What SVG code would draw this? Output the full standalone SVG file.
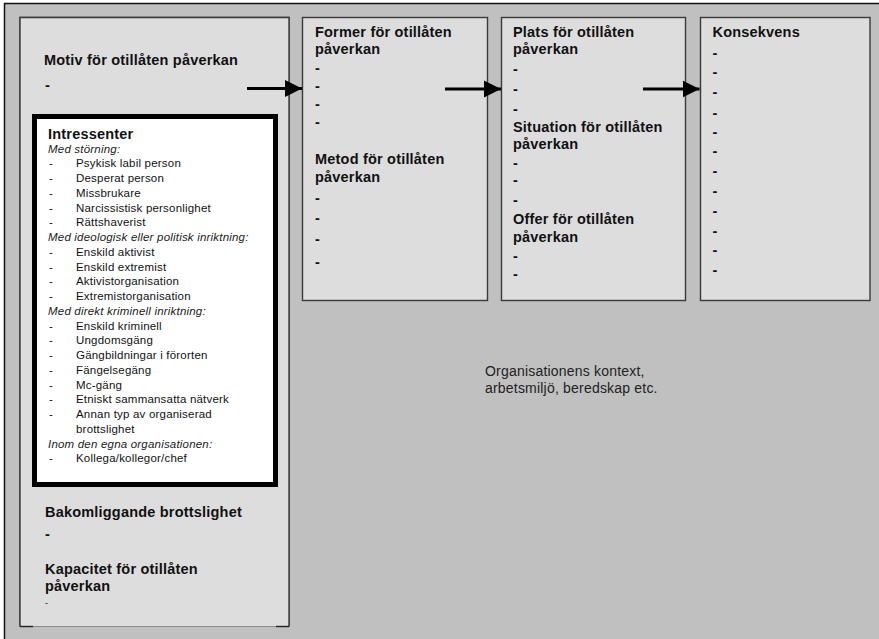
<svg xmlns="http://www.w3.org/2000/svg" width="879" height="639" viewBox="0 0 879 639">
<defs>
<style>
text{font-family:"Liberation Sans",Arial,Helvetica,sans-serif;fill:#111}
.h{font-size:14.5px;font-weight:bold;letter-spacing:0.2px}
.d{font-size:14.5px;font-weight:bold}
.i{font-size:11.5px;font-style:italic;letter-spacing:0.2px;fill:#222}
.r{font-size:11.5px;letter-spacing:0.2px}
.c{font-size:14px;letter-spacing:0.2px;fill:#222}
.box{fill:#dddddd;stroke:#3a3a3a;stroke-width:1.4}
.arrow{stroke:#000;stroke-width:3.2;fill:none}
</style>
<marker id="ah" markerUnits="userSpaceOnUse" markerWidth="18" markerHeight="18" refX="17" refY="9" orient="auto">
<path d="M0,0.5 L17,9 L0,17.5 Z" fill="#000"/>
</marker>
</defs>
<rect x="0" y="0" width="879" height="639" fill="#ffffff"/>
<rect id="frame" x="4.5" y="3.5" width="900" height="700" fill="#c0c0c0" stroke="#111" stroke-width="1.5"/>

<g id="motiv">
<path class="box" d="M20,626.5 V17.5 H289 V626.5"/>
<rect x="20" y="17.5" width="269" height="609" fill="#dddddd"/>
<path d="M20,626.5 V17.5 H289 V626.5" fill="none" stroke="#3a3a3a" stroke-width="1.4"/>
<line x1="20" y1="626.5" x2="289" y2="626.5" stroke="#8a8a8a" stroke-width="1.2"/>
<line x1="20" y1="626.5" x2="33" y2="626.5" stroke="#222" stroke-width="1.4"/>
<line x1="276" y1="626.5" x2="289" y2="626.5" stroke="#222" stroke-width="1.4"/>
<text class="h" x="44" y="65">Motiv för otillåten påverkan</text>
<text class="d" x="45" y="90">-</text>
<text class="h" x="45" y="517">Bakomliggande brottslighet</text>
<text class="d" x="45" y="539">-</text>
<text class="h" x="45" y="574">Kapacitet för otillåten</text>
<text class="h" x="45" y="591">påverkan</text>
<text x="45" y="606" style="font-size:9px">-</text>
</g>

<g id="intressenter">
<rect x="34.5" y="116.5" width="241" height="368" fill="#ffffff" stroke="#000" stroke-width="5"/>
<text class="h" x="48" y="139">Intressenter</text>
<text class="i" x="48" y="152.7">Med störning:</text>
<text class="r" x="49" y="167.4">-</text><text class="r" x="76" y="167.4">Psykisk labil person</text>
<text class="r" x="49" y="182.2">-</text><text class="r" x="76" y="182.2">Desperat person</text>
<text class="r" x="49" y="196.9">-</text><text class="r" x="76" y="196.9">Missbrukare</text>
<text class="r" x="49" y="211.7">-</text><text class="r" x="76" y="211.7">Narcissistisk personlighet</text>
<text class="r" x="49" y="226.4">-</text><text class="r" x="76" y="226.4">Rättshaverist</text>
<text class="i" x="48" y="241.2">Med ideologisk eller politisk inriktning:</text>
<text class="r" x="49" y="255.9">-</text><text class="r" x="76" y="255.9">Enskild aktivist</text>
<text class="r" x="49" y="270.7">-</text><text class="r" x="76" y="270.7">Enskild extremist</text>
<text class="r" x="49" y="285.4">-</text><text class="r" x="76" y="285.4">Aktivistorganisation</text>
<text class="r" x="49" y="300.2">-</text><text class="r" x="76" y="300.2">Extremistorganisation</text>
<text class="i" x="48" y="314.9">Med direkt kriminell inriktning:</text>
<text class="r" x="49" y="329.7">-</text><text class="r" x="76" y="329.7">Enskild kriminell</text>
<text class="r" x="49" y="344.4">-</text><text class="r" x="76" y="344.4">Ungdomsgäng</text>
<text class="r" x="49" y="359.2">-</text><text class="r" x="76" y="359.2">Gängbildningar i förorten</text>
<text class="r" x="49" y="373.9">-</text><text class="r" x="76" y="373.9">Fängelsegäng</text>
<text class="r" x="49" y="388.7">-</text><text class="r" x="76" y="388.7">Mc-gäng</text>
<text class="r" x="49" y="403.4">-</text><text class="r" x="76" y="403.4">Etniskt sammansatta nätverk</text>
<text class="r" x="49" y="418.2">-</text><text class="r" x="76" y="418.2">Annan typ av organiserad</text>
<text class="r" x="76" y="432.9">brottslighet</text>
<text class="i" x="48" y="447.7">Inom den egna organisationen:</text>
<text class="r" x="49" y="462.4">-</text><text class="r" x="76" y="462.4">Kollega/kollegor/chef</text>
</g>

<g id="former">
<rect class="box" x="302.5" y="17.5" width="185" height="283"/>
<text class="h" x="315" y="36.7">Former för otillåten</text>
<text class="h" x="315" y="54.3">påverkan</text>
<text class="d" x="315" y="72.5">-</text>
<text class="d" x="315" y="91">-</text>
<text class="d" x="315" y="109">-</text>
<text class="d" x="315" y="127">-</text>
<text class="h" x="315" y="164.3">Metod för otillåten</text>
<text class="h" x="315" y="181.8">påverkan</text>
<text class="d" x="315" y="202.5">-</text>
<text class="d" x="315" y="222.5">-</text>
<text class="d" x="315" y="243.5">-</text>
<text class="d" x="315" y="267">-</text>
</g>

<g id="plats">
<rect class="box" x="501.5" y="17.5" width="184" height="283"/>
<text class="h" x="513" y="36.7">Plats för otillåten</text>
<text class="h" x="513" y="54.3">påverkan</text>
<text class="d" x="513" y="74">-</text>
<text class="d" x="513" y="94">-</text>
<text class="d" x="513" y="113.5">-</text>
<text class="h" x="513" y="131.7">Situation för otillåten</text>
<text class="h" x="513" y="148.8">påverkan</text>
<text class="d" x="513" y="167.5">-</text>
<text class="d" x="513" y="185.2">-</text>
<text class="d" x="513" y="205">-</text>
<text class="h" x="513" y="224.3">Offer för otillåten</text>
<text class="h" x="513" y="241.5">påverkan</text>
<text class="d" x="513" y="261">-</text>
<text class="d" x="513" y="278.5">-</text>
</g>

<g id="konsekvens">
<rect class="box" x="700.5" y="17.5" width="169.5" height="283"/>
<text class="h" x="712.5" y="36.7">Konsekvens</text>
<text class="d" x="712.5" y="57.5">-</text>
<text class="d" x="712.5" y="77">-</text>
<text class="d" x="712.5" y="97">-</text>
<text class="d" x="712.5" y="117.5">-</text>
<text class="d" x="712.5" y="137">-</text>
<text class="d" x="712.5" y="156">-</text>
<text class="d" x="712.5" y="176">-</text>
<text class="d" x="712.5" y="196">-</text>
<text class="d" x="712.5" y="216">-</text>
<text class="d" x="712.5" y="236">-</text>
<text class="d" x="712.5" y="255">-</text>
<text class="d" x="712.5" y="275">-</text>
</g>

<g id="kontext">
<text class="c" x="485" y="376">Organisationens kontext,</text>
<text class="c" x="485" y="393.3">arbetsmiljö, beredskap etc.</text>
</g>

<g id="connectors">
<line class="arrow" x1="247" y1="88.5" x2="302" y2="88.5" marker-end="url(#ah)"/>
<line class="arrow" x1="445" y1="89" x2="501" y2="89" marker-end="url(#ah)"/>
<line class="arrow" x1="643" y1="89" x2="699.5" y2="89" marker-end="url(#ah)"/>
</g>
</svg>
